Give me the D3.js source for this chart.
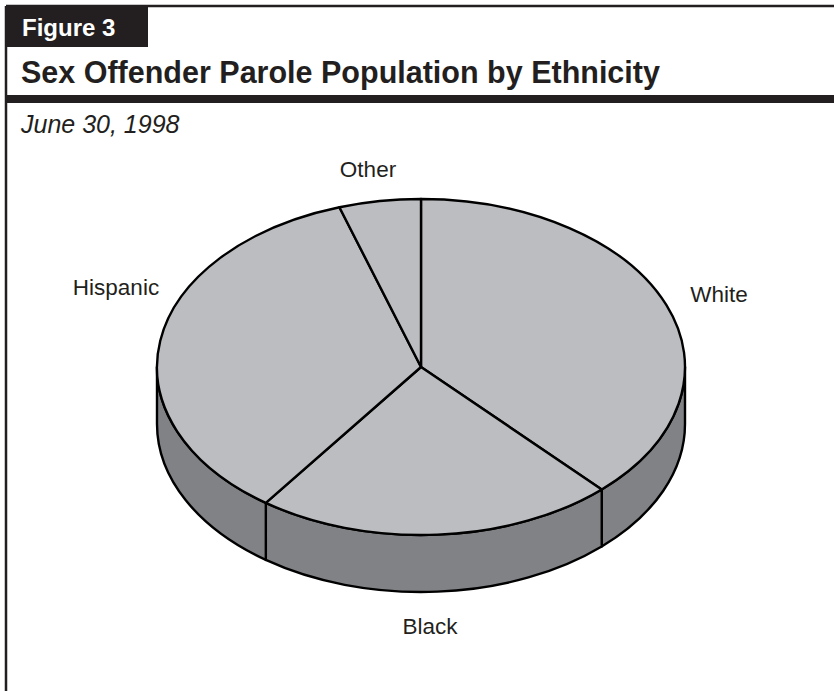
<!DOCTYPE html>
<html>
<head>
<meta charset="utf-8">
<script src="https://cdn.jsdelivr.net/npm/d3@7/dist/d3.min.js"></script>
<style>
  html, body { margin: 0; padding: 0; background: #ffffff; }
  svg { display: block; font-family: Arial, "Liberation Sans", Helvetica, sans-serif; }
</style>
</head>
<body>
<svg id="chart" width="834" height="691"></svg>
<script>
// Sex offender parolees by ethnicity, June 30, 1998 (percent of total)
const categories = ["White", "Black", "Hispanic", "Other"];
const shares = [38, 22, 35, 5];

const figureLabel = "Figure 3";
const title = "Sex Offender Parole Population by Ethnicity";
const subtitle = "June 30, 1998";

const W = 834, H = 691;
const ink = "#231f20";
const topFill = "#bcbdc1";
const sideFill = "#818286";

const svg = d3.select("#chart");

// frame: top rule and left rule
svg.append("line").attr("x1", 6).attr("y1", 6).attr("x2", W).attr("y2", 6)
  .attr("stroke", ink).attr("stroke-width", 2.5);
svg.append("line").attr("x1", 6).attr("y1", 6).attr("x2", 6).attr("y2", H)
  .attr("stroke", ink).attr("stroke-width", 2.5);

// figure tab
svg.append("rect").attr("x", 6).attr("y", 6).attr("width", 142).attr("height", 41).attr("fill", ink);
svg.append("text").attr("x", 22).attr("y", 36)
  .attr("fill", "#ffffff").attr("font-weight", "bold").attr("font-size", 24)
  .text(figureLabel);

// title and heavy rule below it
svg.append("text").attr("x", 21).attr("y", 83)
  .attr("fill", ink).attr("font-weight", "bold").attr("font-size", 30.5)
  .text(title);
svg.append("rect").attr("x", 6).attr("y", 95).attr("width", W - 6).attr("height", 8).attr("fill", ink);

svg.append("text").attr("x", 21).attr("y", 133)
  .attr("fill", ink).attr("font-style", "italic").attr("font-size", 25)
  .text(subtitle);

// ---- 3D pie ----
const cx = 421, cy = 367, rx = 264, ry = 168, depth = 57;

const pie = d3.pie().sort(null).value(d => d.value);
const arcs = pie(categories.map((c, i) => ({ name: c, value: shares[i] })));

// point on the ellipse for a pie angle (clockwise from 12 o'clock)
const pt = (a, dy = 0) => [cx + rx * Math.sin(a), cy - ry * Math.cos(a) + dy];
const fmt = p => p[0].toFixed(2) + "," + p[1].toFixed(2);

const g = svg.append("g");

// side walls: only the front half of the rim (angles between pi/2 and 3pi/2) shows
const sideG = g.append("g");
arcs.forEach(d => {
  const a = Math.max(d.startAngle, Math.PI / 2);
  const b = Math.min(d.endAngle, 3 * Math.PI / 2);
  if (b <= a) return;
  const large = (b - a) > Math.PI ? 1 : 0;
  const path = "M" + fmt(pt(a)) +
    " A" + rx + "," + ry + " 0 " + large + " 1 " + fmt(pt(b)) +
    " L" + fmt(pt(b, depth)) +
    " A" + rx + "," + ry + " 0 " + large + " 0 " + fmt(pt(a, depth)) + " Z";
  sideG.append("path").attr("d", path)
    .attr("fill", sideFill).attr("stroke", "#000").attr("stroke-width", 2.4)
    .attr("stroke-linejoin", "round");
});

// top face slices
const topG = g.append("g");
arcs.forEach(d => {
  const a = d.startAngle, b = d.endAngle;
  const large = (b - a) > Math.PI ? 1 : 0;
  const path = "M" + cx + "," + cy +
    " L" + fmt(pt(a)) +
    " A" + rx + "," + ry + " 0 " + large + " 1 " + fmt(pt(b)) + " Z";
  topG.append("path").attr("d", path)
    .attr("fill", topFill).attr("stroke", "#000").attr("stroke-width", 2.4)
    .attr("stroke-linejoin", "round");
});

// slice labels
const labelPos = {
  White: [719, 302],
  Black: [430, 634],
  Hispanic: [116, 295],
  Other: [368, 177]
};
svg.append("g").selectAll("text").data(arcs).join("text")
  .attr("x", d => labelPos[d.data.name][0])
  .attr("y", d => labelPos[d.data.name][1])
  .attr("text-anchor", "middle")
  .attr("font-size", 22.5)
  .attr("fill", ink)
  .text(d => d.data.name);
</script>
</body>
</html>
